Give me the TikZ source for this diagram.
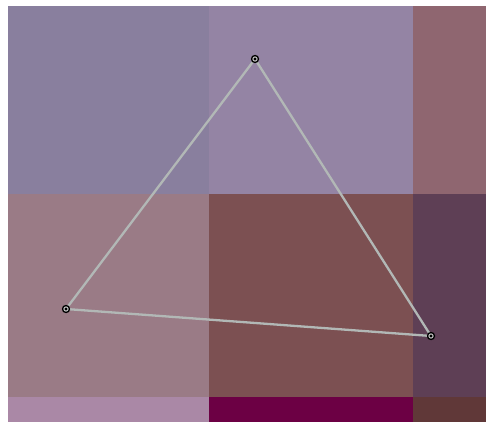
\documentclass[tikz,border=0pt]{standalone}
\begin{document}
\begin{tikzpicture}[x=1pt,y=-1pt,
  vtx/.style={circle,draw=black,line width=1.3pt,fill=white!55!gray,inner sep=0pt,minimum size=7pt,
    path picture={\fill[black] (path picture bounding box.center) circle (1.6pt);}},
  edge/.style={draw=linec,line width=2.3pt}]
\useasboundingbox (0,0) rectangle (486,422);
\fill[white] (0,0) rectangle (486,422);
\definecolor{linec}{RGB}{178,184,182}
\definecolor{ca}{RGB}{137,127,158}
\definecolor{cb}{RGB}{148,132,164}
\definecolor{cc}{RGB}{143,102,112}
\definecolor{cd}{RGB}{154,123,134}
\definecolor{ce}{RGB}{124,80,82}
\definecolor{cf}{RGB}{94,63,85}
\definecolor{cg}{RGB}{170,136,166}
\definecolor{ch}{RGB}{108,0,68}
\definecolor{ci}{RGB}{96,56,56}
\fill[ca] (8,6) rectangle (209,194);
\fill[cb] (209,6) rectangle (413,194);
\fill[cc] (413,6) rectangle (486,194);
\fill[cd] (8,194) rectangle (209,397);
\fill[ce] (209,194) rectangle (413,397);
\fill[cf] (413,194) rectangle (486,397);
\fill[cg] (8,397) rectangle (209,422);
\fill[ch] (209,397) rectangle (413,422);
\fill[ci] (413,397) rectangle (486,422);
\coordinate (a) at (255,59);
\coordinate (b) at (66,309);
\coordinate (c) at (431,336);
\draw[edge] (a) -- (b) -- (c) -- cycle;
\node[vtx] (va) at (a) {};
\node[vtx] (vb) at (b) {};
\node[vtx] (vc) at (c) {};
\end{tikzpicture}
\end{document}
